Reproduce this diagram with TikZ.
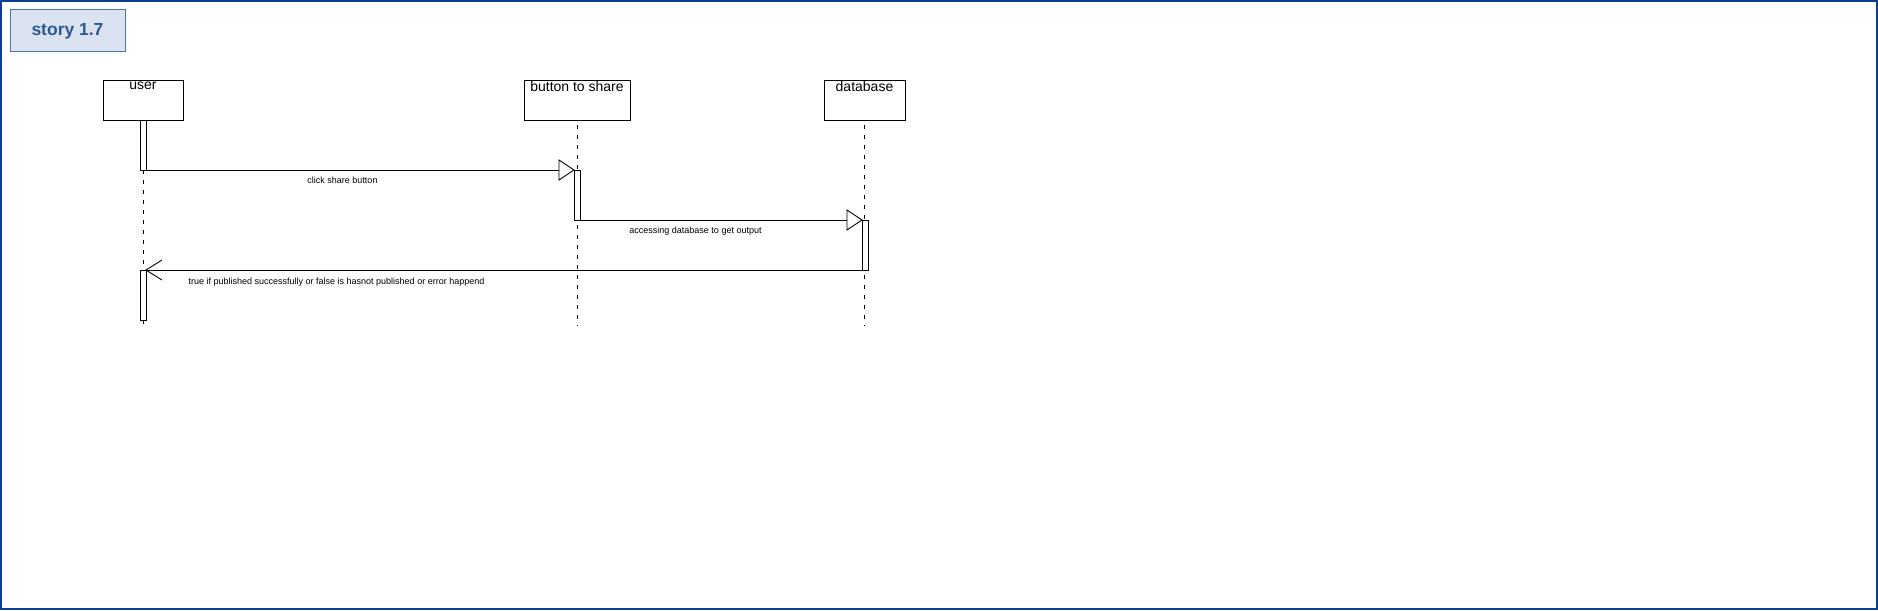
\documentclass[tikz,border=0pt]{standalone}
\usepackage{fontspec}
\setmainfont{Liberation Sans}
\begin{document}
\begin{tikzpicture}[x=1pt,y=-1pt,
  frameline/.style={draw=framec,line width=1.6pt},
  actor/.style={draw=black,fill=white,line width=0.9pt},
  bar/.style={draw=black,fill=white,line width=0.9pt},
  life/.style={draw=black,line width=0.9pt,dash pattern=on 4pt off 6pt},
  msg/.style={draw=black,line width=0.9pt},
  headtri/.style={draw=black,fill=white,line width=0.9pt},
  lbl/.style={font=\fontsize{9}{10}\selectfont,inner sep=0pt},
  actlbl/.style={font=\fontsize{14}{16}\selectfont,inner sep=0pt}]
\definecolor{framec}{HTML}{0B3D91}
\definecolor{storyfill}{HTML}{DAE3EF}
\definecolor{storyline}{HTML}{4A75A8}
\definecolor{storytext}{HTML}{2E5A94}
\useasboundingbox (0,0) rectangle (1878,610);
\fill[white] (0,0) rectangle (1878,610);
\draw[frameline] (0.8,0.8) rectangle (1877.2,609.2);
% title
\node[draw=storyline,fill=storyfill,line width=1pt,minimum width=115pt,minimum height=42pt,inner sep=0pt,
  font=\bfseries\fontsize{17.5}{20}\selectfont,text=storytext] (story) at (67.5,31) {story 1.7};
% actors
\draw[actor] (103,80) rectangle (183,120);
\node[actlbl] (userl) at (143,86) {user};
\draw[actor] (524,80) rectangle (630,120);
\node[actlbl] (btnl) at (577,86) {button to share};
\draw[actor] (824,80) rectangle (905,120);
\node[actlbl] (dbl) at (864.5,86) {database};
% lifeline anchors
\coordinate (u0) at (143,120); \coordinate (u1) at (143,326);
\coordinate (b0) at (577,125); \coordinate (b1) at (577,326);
\coordinate (d0) at (864,125); \coordinate (d1) at (864,326);
\draw[life] (u0) -- (u1);
\draw[life] (b0) -- (b1);
\draw[life] (d0) -- (d1);
% activation bars
\draw[bar] (140,120) rectangle (146,170);
\draw[bar] (574,170) rectangle (580,220);
\draw[bar] (862,220) rectangle (868,270);
\draw[bar] (140,270) rectangle (146,320);
% messages
\coordinate (m1s) at (146,170); \coordinate (m1e) at (574,170);
\draw[msg] (m1s) -- (559,170);
\draw[headtri] (m1e) -- (559,160) -- (559,180) -- cycle;
\node[lbl] (m1l) at (342.5,180) {click share button};
\coordinate (m2s) at (580,220); \coordinate (m2e) at (862,220);
\draw[msg] (m2s) -- (847,220);
\draw[headtri] (m2e) -- (847,210) -- (847,230) -- cycle;
\node[lbl] (m2l) at (695.5,231) {accessing database to get output};
\coordinate (m3s) at (862,270); \coordinate (m3e) at (146,270);
\draw[msg] (m3s) -- (m3e);
\draw[msg] (162,260) -- (m3e) -- (162,280);
\node[lbl] (m3l) at (336.5,282) {true if published successfully or false is hasnot published or error happend};
\end{tikzpicture}
\end{document}
